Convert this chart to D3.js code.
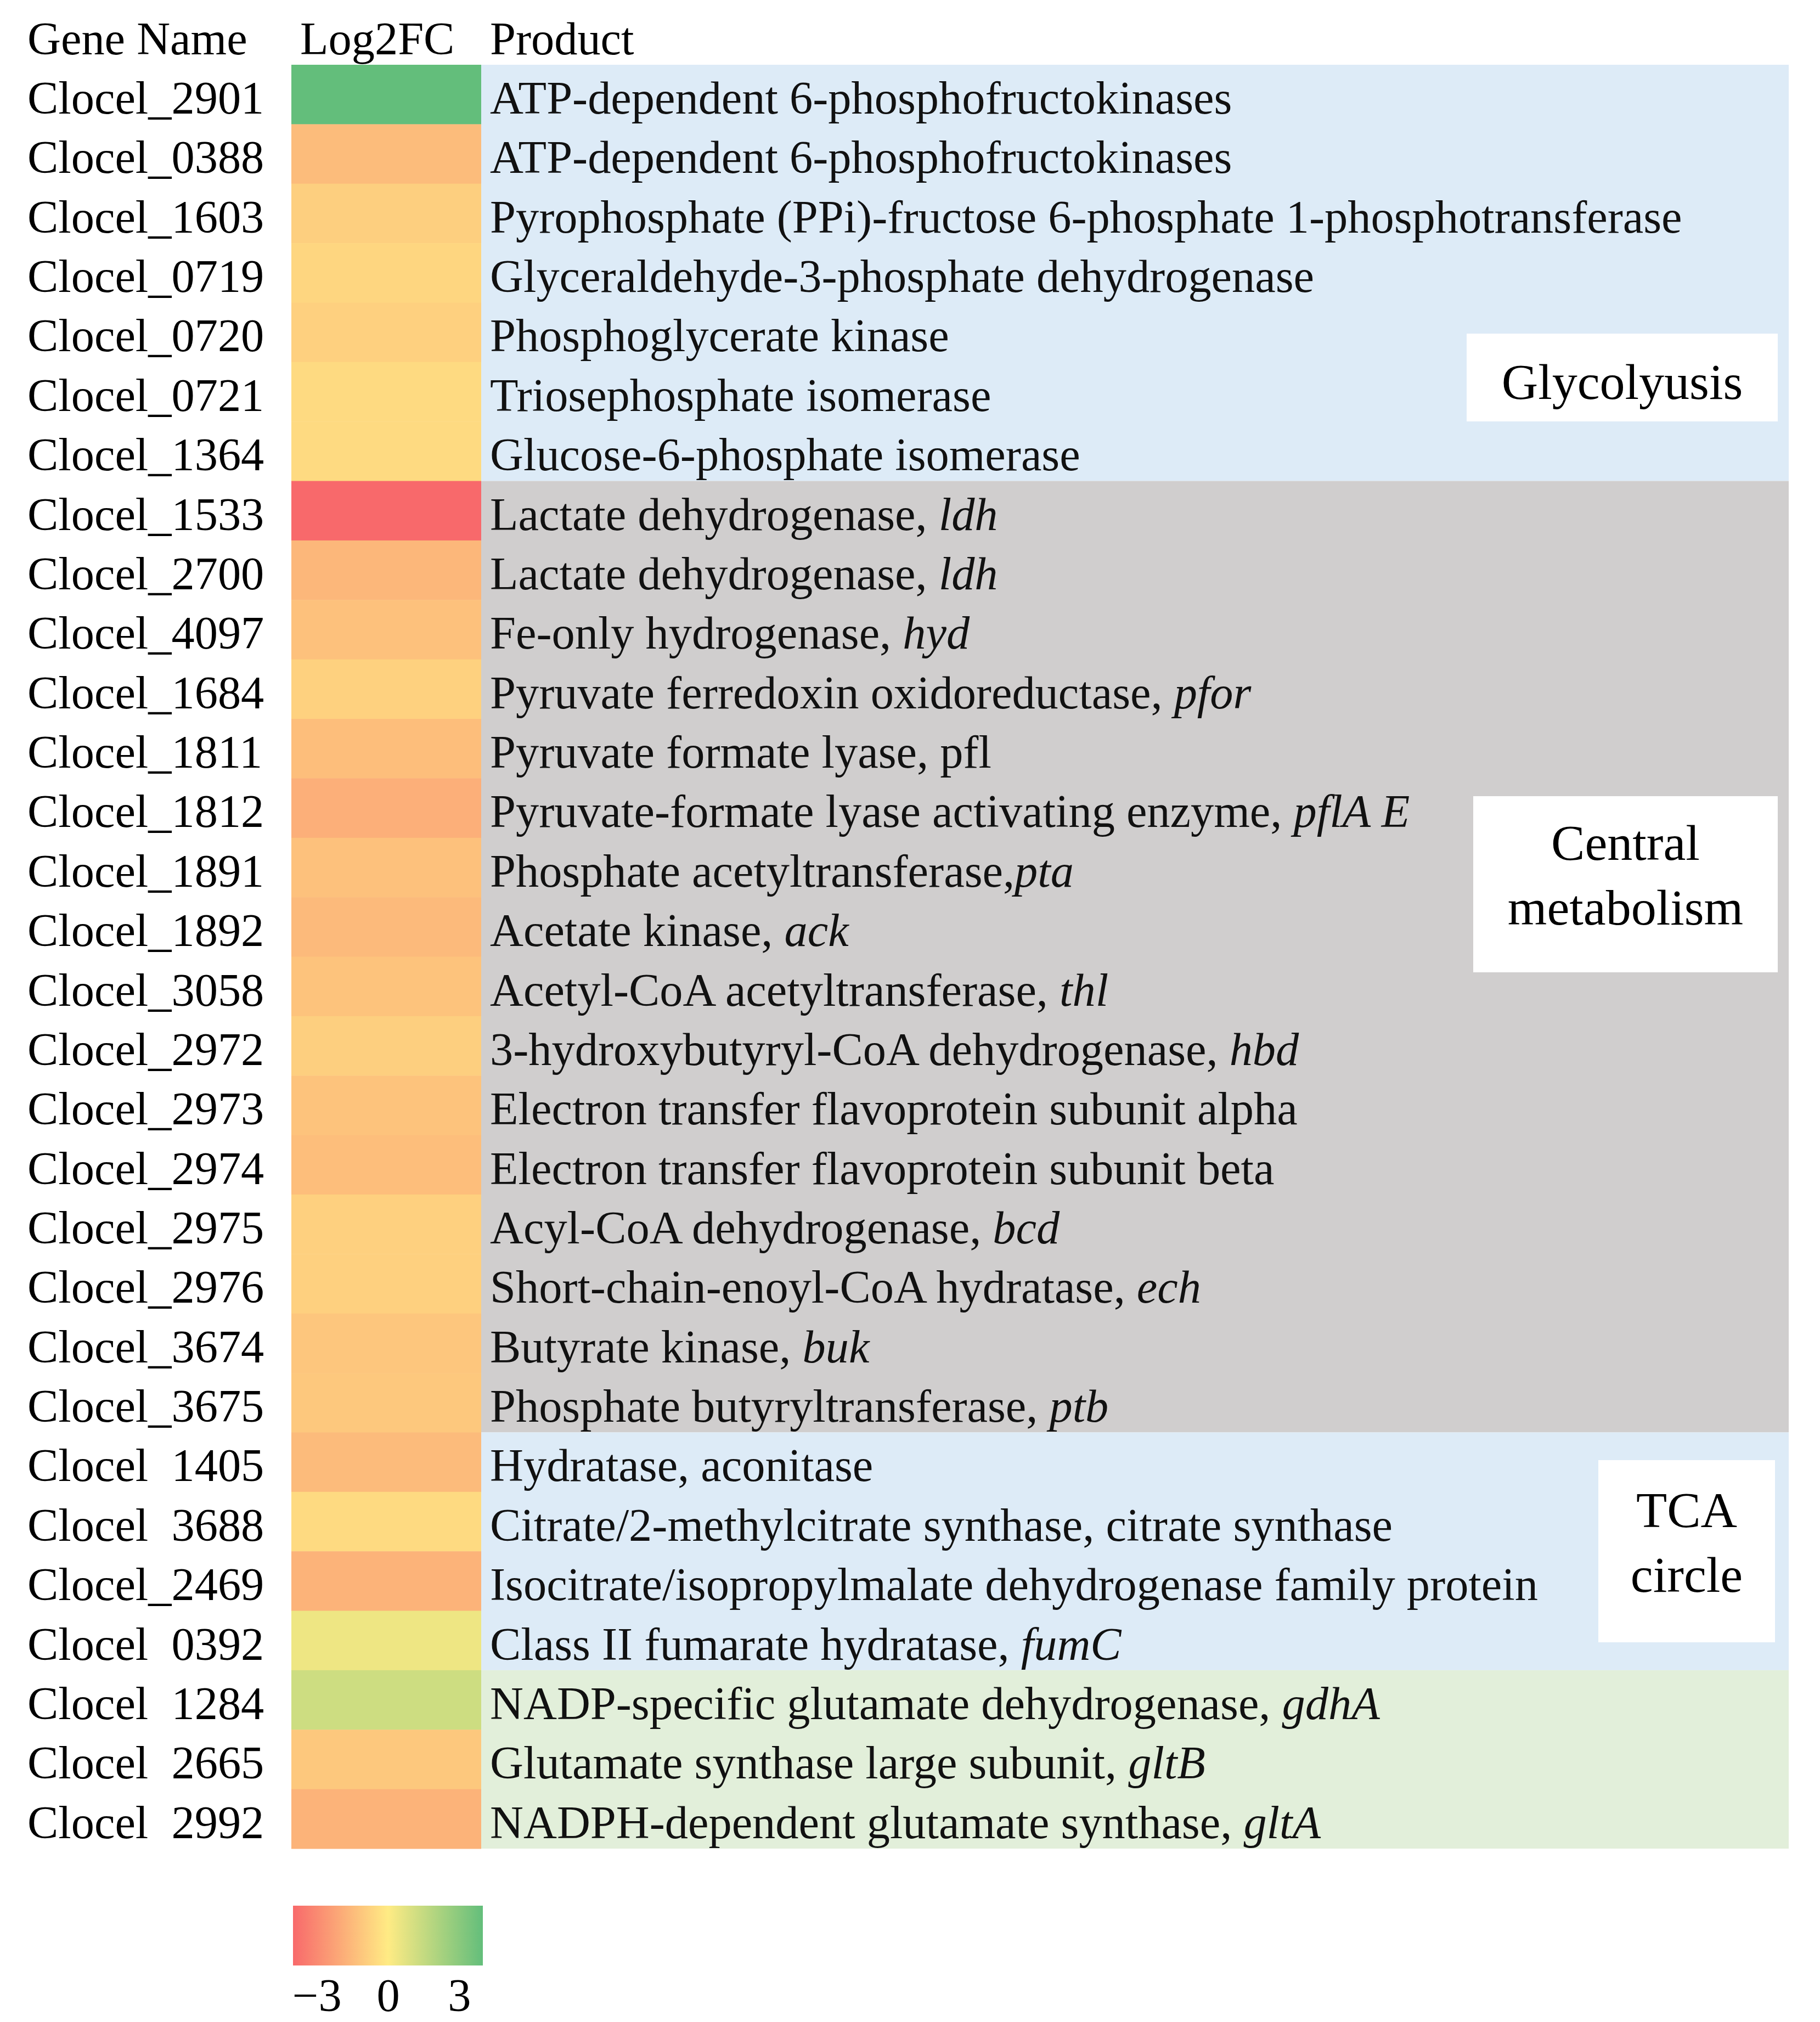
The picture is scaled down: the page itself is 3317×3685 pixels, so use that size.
<!DOCTYPE html>
<html>
<head>
<meta charset="utf-8">
<script src="https://cdn.jsdelivr.net/npm/d3@7"></script>
<style>
  body { margin: 0; background: #fff; }
  svg text { font-family: "Liberation Serif", "Times New Roman", serif; white-space: pre; }
</style>
</head>
<body>
<svg id="chart"></svg>
<script>
var W = 3317, H = 3685;

// ---- data ----
var genes = ["Clocel_2901", "Clocel_0388", "Clocel_1603", "Clocel_0719", "Clocel_0720", "Clocel_0721",
  "Clocel_1364", "Clocel_1533", "Clocel_2700", "Clocel_4097", "Clocel_1684", "Clocel_1811",
  "Clocel_1812", "Clocel_1891", "Clocel_1892", "Clocel_3058", "Clocel_2972", "Clocel_2973",
  "Clocel_2974", "Clocel_2975", "Clocel_2976", "Clocel_3674", "Clocel_3675", "Clocel_1405",
  "Clocel_3688", "Clocel_2469", "Clocel_0392", "Clocel_1284", "Clocel_2665", "Clocel_2992"];

var log2fc = [3.0, -1.08, -0.65, -0.49, -0.62, -0.39,
  -0.39, -3.0, -1.2, -0.97, -0.6, -1.05,
  -1.38, -0.97, -1.12, -0.93, -0.65, -0.93,
  -1.05, -0.62, -0.62, -0.85, -0.8, -1.1,
  -0.4, -1.3, 0.33, 0.96, -0.8, -1.3];

var products = ["ATP-dependent 6-phosphofructokinases", "ATP-dependent 6-phosphofructokinases",
  "Pyrophosphate (PPi)-fructose 6-phosphate 1-phosphotransferase", "Glyceraldehyde-3-phosphate dehydrogenase",
  "Phosphoglycerate kinase", "Triosephosphate isomerase", "Glucose-6-phosphate isomerase",
  "Lactate dehydrogenase, ", "Lactate dehydrogenase, ", "Fe-only hydrogenase, ",
  "Pyruvate ferredoxin oxidoreductase, ", "Pyruvate formate lyase, pfl",
  "Pyruvate-formate lyase activating enzyme, ", "Phosphate acetyltransferase,", "Acetate kinase, ",
  "Acetyl-CoA acetyltransferase, ", "3-hydroxybutyryl-CoA dehydrogenase, ",
  "Electron transfer flavoprotein subunit alpha", "Electron transfer flavoprotein subunit beta",
  "Acyl-CoA dehydrogenase, ", "Short-chain-enoyl-CoA hydratase, ", "Butyrate kinase, ",
  "Phosphate butyryltransferase, ", "Hydratase, aconitase",
  "Citrate/2-methylcitrate synthase, citrate synthase", "Isocitrate/isopropylmalate dehydrogenase family protein",
  "Class II fumarate hydratase, ", "NADP-specific glutamate dehydrogenase, ",
  "Glutamate synthase large subunit, ", "NADPH-dependent glutamate synthase, "];

// italic gene symbol that follows the product name
var productGenes = ["", "", "", "", "", "", "",
  "ldh", "ldh", "hyd", "pfor", "", "pflA E", "pta", "ack", "thl", "hbd", "", "",
  "bcd", "ech", "buk", "ptb", "", "", "", "fumC", "gdhA", "gltB", "gltA"];

// underscore not visible in these rows of the picture
var hiddenUnderscore = ["Clocel_1405", "Clocel_3688", "Clocel_0392", "Clocel_1284", "Clocel_2665", "Clocel_2992"];

var groupNames = ["Glycolyusis", "Central\nmetabolism", "TCA\ncircle", ""];
var groupSizes = [7, 16, 4, 3];
var groupFills = ["#DDEBF7", "#D0CECE", "#DDEBF7", "#E2EFDA"];

var colorDomain = [-3, 0, 3];
var colorRange = ["#F8696B", "#FFEB84", "#63BE7B"];
var legendTicks = [-3, 0, 3];

// ---- layout ----
var fontSize = 84.4, groupFont = 92;
var rowsTop = 118, rowsBottom = 3369;
var geneX = 50, heatX0 = 531, heatX1 = 877, bgX1 = 3260, prodX = 893;
var textDy = 89;
var boxes = [
  {x: 2673, y: 608, w: 567, h: 160, base: 119},
  {x: 2685, y: 1451, w: 555, h: 321, base: 116},
  {x: 2913, y: 2661, w: 322, h: 332, base: 122}
];
var lineH = 118;

var svg = d3.select("#chart").attr("width", W).attr("height", H);

var y = d3.scaleBand().domain(genes).range([rowsTop, rowsBottom]);
var color = d3.scaleLinear().domain(colorDomain).range(colorRange).clamp(true);

// header
var header = svg.append("g").attr("font-size", fontSize);
header.append("text").attr("x", geneX).attr("y", 99).text("Gene Name");
header.append("text").attr("x", 547).attr("y", 99).text("Log2FC");
header.append("text").attr("x", prodX).attr("y", 99).text("Product");

// group backgrounds behind product column
var start = 0;
groupSizes.forEach(function(n, i) {
  var y0 = y(genes[start]), y1 = y(genes[start + n - 1]) + y.bandwidth();
  svg.append("rect").attr("x", heatX1).attr("y", y0)
    .attr("width", bgX1 - heatX1).attr("height", y1 - y0)
    .attr("fill", groupFills[i]);
  start += n;
});

// heatmap cells
svg.append("g").selectAll("rect").data(genes).enter().append("rect")
  .attr("x", heatX0).attr("y", function(d) { return y(d); })
  .attr("width", heatX1 - heatX0).attr("height", y.bandwidth() + 0.5)
  .attr("fill", function(d, i) { return color(log2fc[i]); });

// gene names
var gl = svg.append("g").attr("font-size", fontSize).selectAll("text").data(genes).enter().append("text")
  .attr("x", geneX).attr("y", function(d) { return y(d) + textDy; });
gl.each(function(d) {
  var t = d3.select(this), parts = d.split("_");
  t.append("tspan").text(parts[0]);
  t.append("tspan").attr("fill", hiddenUnderscore.indexOf(d) >= 0 ? "none" : null).text("_");
  t.append("tspan").text(parts[1]);
});

// product names
var pl = svg.append("g").attr("font-size", fontSize).attr("fill", "#111").selectAll("text").data(genes).enter().append("text")
  .attr("x", prodX).attr("y", function(d) { return y(d) + textDy; });
pl.each(function(d, i) {
  var t = d3.select(this);
  t.append("tspan").text(products[i]);
  if (productGenes[i]) t.append("tspan").attr("font-style", "italic").text(productGenes[i]);
});

// group label boxes
boxes.forEach(function(b, i) {
  svg.append("rect").attr("x", b.x).attr("y", b.y).attr("width", b.w).attr("height", b.h).attr("fill", "#fff");
  var lines = groupNames[i].split("\n");
  svg.append("g").selectAll("text").data(lines).enter().append("text")
    .attr("x", b.x + b.w / 2).attr("y", function(d, j) { return b.y + b.base + j * lineH; })
    .attr("text-anchor", "middle").attr("font-size", groupFont)
    .text(function(d) { return d; });
});

// colour legend
var lx0 = 534, lx1 = 880, ly0 = 3473, ly1 = 3582;
var grad = svg.append("defs").append("linearGradient").attr("id", "legendGrad");
grad.selectAll("stop").data(colorDomain).enter().append("stop")
  .attr("offset", function(d, i) { return (i / (colorDomain.length - 1) * 100) + "%"; })
  .attr("stop-color", function(d) { return color(d); });
svg.append("rect").attr("x", lx0).attr("y", ly0).attr("width", lx1 - lx0).attr("height", ly1 - ly0)
  .attr("fill", "url(#legendGrad)");

var lx = d3.scaleLinear().domain([-4, 4]).range([lx0, lx1]);
var axis = svg.append("g").attr("transform", "translate(0," + ly1 + ")")
  .call(d3.axisBottom(lx).tickValues(legendTicks).tickSize(0).tickFormat(d3.format("d")));
axis.select(".domain").remove();
axis.selectAll("text").attr("y", 83).attr("dy", null)
  .attr("font-size", fontSize).attr("font-family", "Liberation Serif, Times New Roman, serif").attr("fill", "#000");
</script>
</body>
</html>
